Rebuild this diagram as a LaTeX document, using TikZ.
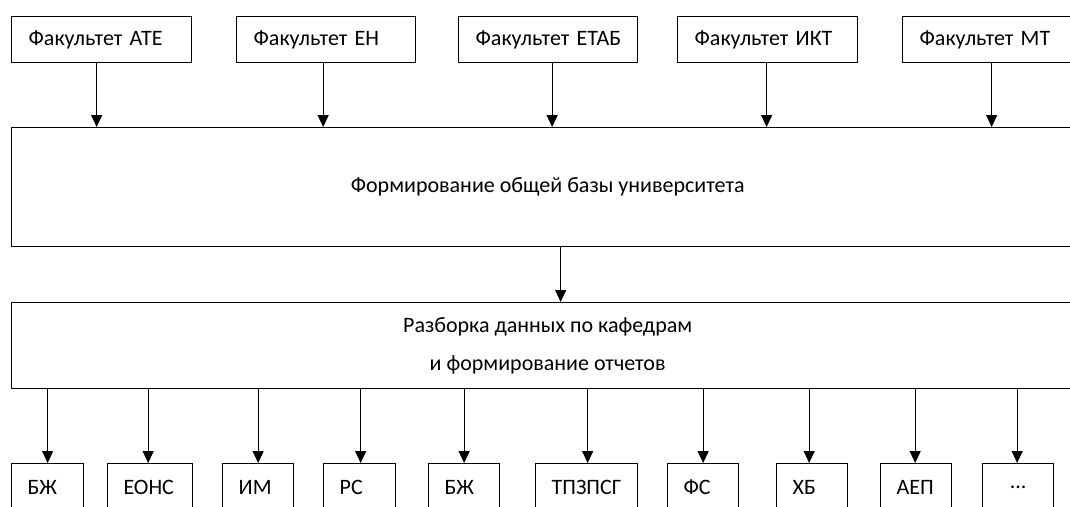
\documentclass[tikz,border=0pt]{standalone}
\usepackage{fontspec}
\setmainfont{Carlito}
\usetikzlibrary{arrows.meta,calc}
\begin{document}
\begin{tikzpicture}[x=1pt,y=-1pt,
  every node/.style={font=\fontsize{22}{38}\selectfont},
  fac/.style={draw,line width=1.3pt,anchor=north west,minimum height=46pt,
    inner xsep=17pt,inner ysep=0pt,align=left},
  big/.style={draw,line width=1.3pt,anchor=north west,minimum width=1072pt,align=center},
  dep/.style={draw,line width=1.3pt,anchor=north west,minimum height=48pt,
    inner xsep=16pt,inner ysep=0pt,align=left},
  arr/.style={line width=1.3pt,-{Triangle[width=11pt,length=12pt]}}]
\useasboundingbox (0,0) rectangle (1070,506);
\clip (0,0) rectangle (1070,506);
% faculties
\node[fac,text width=146pt] (t1) at (11,16) {\mbox{Факультет АТЕ}};
\node[fac,text width=145pt] (t2) at (236,16) {\mbox{Факультет ЕН}};
\node[fac,text width=145pt] (t3) at (458,16) {\mbox{Факультет ЕТАБ}};
\node[fac,text width=146pt] (t4) at (677,16) {\mbox{Факультет ИКТ}};
\node[fac,text width=146pt] (t5) at (902,16) {\mbox{Факультет МТ}};
% big boxes
\node[big,minimum height=119pt] (A) at (11,127) {Формирование общей базы университета};
\node[big,minimum height=86pt] (B) at (11,302) {Разборка данных по кафедрам\\и формирование отчетов};
% departments
\node[dep,text width=40pt] (d1) at (11,463) {\mbox{БЖ}};
\node[dep,text width=53pt] (d2) at (107,463) {\mbox{ЕОНС}};
\node[dep,text width=39pt] (d3) at (222,463) {\mbox{ИМ}};
\node[dep,text width=40pt] (d4) at (323,463) {\mbox{РС}};
\node[dep,text width=39pt] (d5) at (428,463) {\mbox{БЖ}};
\node[dep,text width=70pt] (d6) at (535,463) {\mbox{ТПЗПСГ}};
\node[dep,text width=39pt] (d7) at (667,463) {\mbox{ФС}};
\node[dep,text width=39pt] (d8) at (776,463) {\mbox{ХБ}};
\node[dep,text width=39pt] (d9) at (880,463) {\mbox{АЕП}};
\node[dep,text width=39pt,align=center] (d10) at (982,463) {...};
% arrows top
\draw[arr] ([xshift=-5pt]t1.south) -- ([xshift=-5pt]t1.south |- A.north);
\draw[arr] ([xshift=-3pt]t2.south) -- ([xshift=-3pt]t2.south |- A.north);
\draw[arr] ([xshift=4pt]t3.south) -- ([xshift=4pt]t3.south |- A.north);
\draw[arr] ([xshift=-1pt]t4.south) -- ([xshift=-1pt]t4.south |- A.north);
\draw[arr] ([xshift=-1pt]t5.south) -- ([xshift=-1pt]t5.south |- A.north);
% middle
\draw[arr] ([xshift=13pt]A.south) -- ([xshift=13pt]A.south |- B.north);
% arrows bottom
\foreach \d/\s in {d1/0,d2/-2,d3/0,d4/1,d5/0,d6/1,d7/0,d8/-3,d9/-1,d10/-1}
  \draw[arr] ([xshift=\s pt]\d.north |- B.south) -- ([xshift=\s pt]\d.north);
\end{tikzpicture}
\end{document}
